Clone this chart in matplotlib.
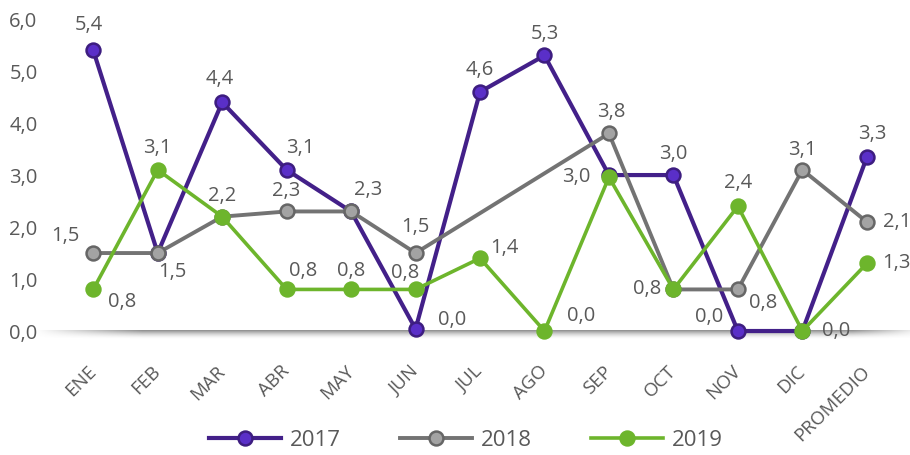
#!/usr/bin/env python3
"""
Monthly values 2017-2019 with average, line chart
"""
import numpy as np
import matplotlib.pyplot as plt

months = ['ENE', 'FEB', 'MAR', 'ABR', 'MAY', 'JUN', 'JUL', 'AGO',
          'SEP', 'OCT', 'NOV', 'DIC', 'PROMEDIO']
v2017 = [5.4, 1.5, 4.4, 3.1, 2.3, 0.04, 4.6, 5.3, 3.0, 3.0, 0.0, 0.0, 3.34]
v2018 = [1.5, 1.5, 2.2, 2.3, 2.3, 1.5, np.nan, np.nan, 3.8, 0.8, 0.8, 3.1, 2.1]
v2019 = [0.8, 3.1, 2.2, 0.8, 0.8, 0.8, 1.4, 0.0, 2.96, 0.8, 2.4, 0.0, 1.3]

# label offsets in pixels (None = no label drawn)
off2017 = [(-4, 25), (15, -19), (-2, 23), (14, 22), (17, 21), (37, 9), (0, 22),
           (0, 21), None, (0, 21), (-29, 14), None, (6, 23)]
off2018 = [(-28, 17), None, (0, 21), (0, 20), None, (0, 26), None, None,
           (2, 21), None, (25, -14), (0, 20), (30, 0)]
off2019 = [(29, -13), (0, 22), None, (16, 18), (0, 18), (-10, 16), (24, 10),
           (37, 15), (-33, 0), (-26, 0), (0, 23), (34, 0), (30, 0)]

txtcol = '#595959'
plt.rcParams['font.family'] = ['Open Sans', 'DejaVu Sans']

fig = plt.figure(figsize=(9.1, 4.55), dpi=100)
ax = fig.add_axes([0.055, 0.2725, 0.945, 0.6855])
x = np.arange(len(months))

series = [
    ('2017', v2017, off2017, '#432089', '#5a2fc8', '#3d1d80', 3.0, 1),
    ('2018', v2018, off2018, '#737373', '#a3a3a3', '#666666', 2.8, 2),
    ('2019', v2019, off2019, '#6db52c', '#6db52c', '#6db52c', 2.6, 3),
]
handles = []
for name, vals, offs, lc, mfc, mec, lw, z in series:
    v = np.array(vals, dtype=float)
    m = ~np.isnan(v)
    h, = ax.plot(x[m], v[m], color=lc, lw=lw, marker='o', ms=10,
                 mfc=mfc, mec=mec, mew=1.8, zorder=z, clip_on=False,
                 label=name)
    handles.append(h)
    for xi, vi, o in zip(x, v, offs):
        if o is None or np.isnan(vi):
            continue
        ax.annotate(f'{vi:.1f}'.replace('.', ','), (xi, vi), xytext=o,
                    textcoords='offset pixels', ha='center', va='center',
                    fontsize=14.5, color=txtcol, zorder=5, annotation_clip=False)

ax.set_xlim(-0.67, 12.67)
ax.set_ylim(0, 6)
ax.set_yticks(np.arange(0, 7))
ax.set_yticklabels([f'{t:.1f}'.replace('.', ',') for t in range(7)])
ax.set_xticks(x)
ax.set_xticklabels(months, rotation=45, ha='right', va='center',
                   rotation_mode='anchor')
ax.tick_params(axis='x', length=0, pad=27, labelsize=13.5, labelcolor=txtcol)
ax.tick_params(axis='y', length=0, pad=9, labelsize=14.5, labelcolor=txtcol)
for s in ax.spines.values():
    s.set_visible(False)

# shaded baseline under zero
W, H = 400, 30
hx = np.clip(np.minimum(np.linspace(0, 1, W) / 0.12, (1 - np.linspace(0, 1, W)) / 0.08), 0, 1)
vy = np.linspace(1, 0, H) ** 1.6
img = np.zeros((H, W, 4))
img[..., :3] = 0.5
img[..., 3] = np.outer(vy, hx) * 0.9
ax.imshow(img, extent=(-0.9, 12.9, -0.16, 0.0), aspect='auto', zorder=0,
          clip_on=False, interpolation='bilinear')
ax.set_xlim(-0.67, 12.67)
ax.set_ylim(0, 6)

leg = fig.legend(handles=handles, loc='center', bbox_to_anchor=(0.512, 0.032),
                 ncol=3, frameon=False, fontsize=16, handlelength=3.2,
                 handletextpad=0.4, columnspacing=2.7)
for t in leg.get_texts():
    t.set_color(txtcol)

plt.savefig('out.png', dpi=100)
